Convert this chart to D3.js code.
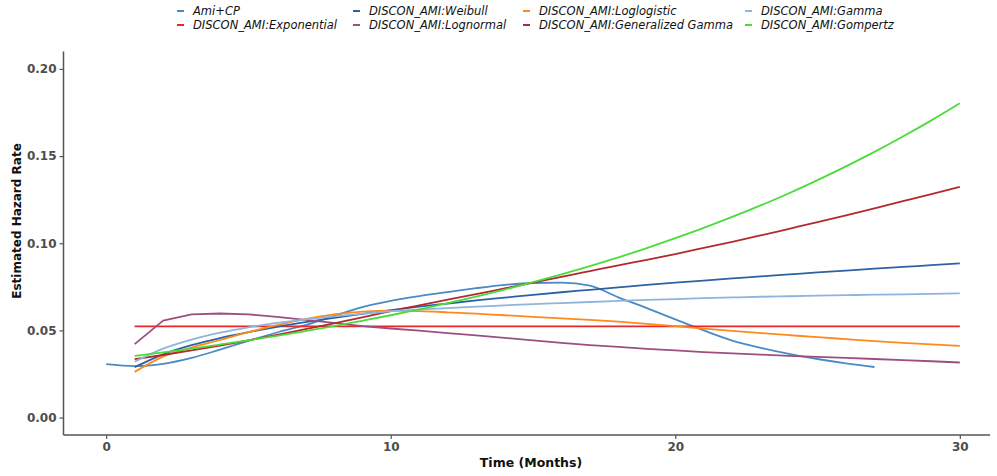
<!DOCTYPE html>
<html>
<head>
<meta charset="utf-8">
<script src="https://cdn.jsdelivr.net/npm/d3@7"></script>
<style>
  html, body { margin: 0; padding: 0; background: #fff; }
  svg { display: block; font-family: "DejaVu Sans", sans-serif; }
</style>
</head>
<body>
<svg id="chart" width="997" height="476"></svg>
<script>
// Estimated hazard rates over follow-up time (months)
const amiTimes = [0,1,2,3,4,5,6,7,8,9,10,11,12,13,14,15,16,17,18,19,20,21,22,23,24,25,26,27];
const amiCP = [0.0306,0.0295,0.0308,0.0342,0.0390,0.0440,0.0488,0.0530,0.0583,0.0634,0.0670,0.0697,0.0720,0.0742,0.0761,0.0772,0.0774,0.0757,0.0690,0.0628,0.0563,0.0500,0.0442,0.0400,0.0365,0.0336,0.0311,0.0290];

const fitTimes = [1,2,3,4,5,6,7,8,9,10,11,12,13,14,15,16,17,18,19,20,21,22,23,24,25,26,27,28,29,30];
const exponential = [0.0523,0.0523,0.0523,0.0523,0.0523,0.0523,0.0523,0.0523,0.0523,0.0523,0.0523,0.0523,0.0523,0.0523,0.0523,0.0523,0.0523,0.0523,0.0523,0.0523,0.0523,0.0523,0.0523,0.0523,0.0523,0.0523,0.0523,0.0523,0.0523,0.0523];
const weibull = [0.0289,0.0363,0.0415,0.0456,0.0490,0.0521,0.0548,0.0572,0.0595,0.0616,0.0636,0.0654,0.0672,0.0688,0.0704,0.0719,0.0733,0.0747,0.0761,0.0774,0.0786,0.0798,0.0810,0.0821,0.0833,0.0843,0.0854,0.0864,0.0874,0.0884];
const lognormal = [0.0421,0.0556,0.0592,0.0597,0.0592,0.0578,0.0561,0.0543,0.0525,0.0511,0.0499,0.0485,0.0471,0.0457,0.0443,0.0428,0.0416,0.0405,0.0394,0.0385,0.0376,0.0368,0.0361,0.0354,0.0348,0.0342,0.0336,0.0330,0.0323,0.0316];
const loglogistic = [0.0262,0.0350,0.0402,0.0445,0.0490,0.0530,0.0565,0.0592,0.0608,0.0614,0.0611,0.0604,0.0596,0.0587,0.0578,0.0569,0.0560,0.0550,0.0538,0.0524,0.0510,0.0497,0.0485,0.0473,0.0461,0.0450,0.0439,0.0429,0.0420,0.0411];
const genGamma = [0.0335,0.0359,0.0385,0.0413,0.0443,0.0474,0.0507,0.0540,0.0575,0.0611,0.0643,0.0676,0.0708,0.0741,0.0774,0.0807,0.0840,0.0873,0.0905,0.0938,0.0973,0.1008,0.1045,0.1083,0.1121,0.1160,0.1200,0.1241,0.1282,0.1324];
const gamma = [0.0320,0.0395,0.0447,0.0487,0.0518,0.0543,0.0563,0.0581,0.0596,0.0610,0.0619,0.0628,0.0636,0.0644,0.0651,0.0657,0.0663,0.0669,0.0675,0.0680,0.0685,0.0689,0.0693,0.0696,0.0699,0.0702,0.0705,0.0707,0.0710,0.0712];
const gompertz = [0.0354,0.0374,0.0396,0.0419,0.0443,0.0469,0.0496,0.0524,0.0555,0.0587,0.0621,0.0656,0.0694,0.0734,0.0777,0.0822,0.0869,0.0919,0.0972,0.1029,0.1088,0.1151,0.1217,0.1287,0.1362,0.1441,0.1524,0.1612,0.1705,0.1803];

const xTicks = [0, 10, 20, 30];
const yTicks = [0.00, 0.05, 0.10, 0.15, 0.20];

// Series in legend order (legend fills column by column, two rows)
const series = [
  { name: "Ami+CP",                          times: amiTimes, values: amiCP,       color: "#4a8ac6" },
  { name: "DISCON_AMI:Exponential",          times: fitTimes, values: exponential, color: "#e8262b" },
  { name: "DISCON_AMI:Weibull",              times: fitTimes, values: weibull,     color: "#2c62a4" },
  { name: "DISCON_AMI:Lognormal",            times: fitTimes, values: lognormal,   color: "#9c4f7e", linear: true },
  { name: "DISCON_AMI:Loglogistic",          times: fitTimes, values: loglogistic, color: "#ff8a1c" },
  { name: "DISCON_AMI:Generalized Gamma",    times: fitTimes, values: genGamma,    color: "#b22a30" },
  { name: "DISCON_AMI:Gamma",                times: fitTimes, values: gamma,       color: "#8fb5dc" },
  { name: "DISCON_AMI:Gompertz",             times: fitTimes, values: gompertz,    color: "#4bdc3a" }
];

const svg = d3.select("#chart");

const panel = { left: 63.5, top: 51.5, bottom: 435, right: 990 };

const x = d3.scaleLinear().domain([-1.5, 31.5]).range([panel.left, 1002.5]);
const y = d3.scaleLinear().domain([-0.01, 0.21]).range([panel.bottom, panel.top]);

// Curves
const smooth = d3.line().x(d => x(d[0])).y(d => y(d[1])).curve(d3.curveMonotoneX);
const straight = d3.line().x(d => x(d[0])).y(d => y(d[1]));

svg.append("g")
  .selectAll("path")
  .data(series)
  .join("path")
  .attr("fill", "none")
  .attr("stroke", d => d.color)
  .attr("stroke-width", 1.8)
  .attr("stroke-linejoin", "round")
  .attr("d", d => (d.linear ? straight : smooth)(d.times.map((t, i) => [t, d.values[i]])));

// Axes
const axisColor = "#555";
const tickText = "#4d4d4d";

const yAxis = svg.append("g")
  .attr("transform", `translate(${panel.left},0)`)
  .call(d3.axisLeft(y).tickValues(yTicks).tickFormat(d3.format(".2f")).tickSize(4).tickPadding(3));
const xAxis = svg.append("g")
  .attr("transform", `translate(0,${panel.bottom})`)
  .call(d3.axisBottom(x).tickValues(xTicks).tickFormat(d3.format("d")).tickSize(4).tickPadding(3));

[xAxis, yAxis].forEach(g => {
  g.select(".domain").remove();
  g.selectAll(".tick line").attr("stroke", axisColor).attr("stroke-width", 1.2);
  g.selectAll(".tick text")
    .attr("fill", tickText)
    .attr("font-size", 12)
    .attr("font-weight", "bold")
    .attr("font-family", "DejaVu Sans, sans-serif");
});

// Axis lines
svg.append("line")
  .attr("x1", panel.left).attr("x2", panel.left)
  .attr("y1", panel.top).attr("y2", panel.bottom)
  .attr("stroke", axisColor).attr("stroke-width", 1.5);
svg.append("line")
  .attr("x1", panel.left).attr("x2", panel.right)
  .attr("y1", panel.bottom).attr("y2", panel.bottom)
  .attr("stroke", axisColor).attr("stroke-width", 1.5);

// Axis titles
svg.append("text")
  .attr("x", 531).attr("y", 467)
  .attr("text-anchor", "middle")
  .attr("font-size", 12.5)
  .attr("font-weight", "bold")
  .attr("fill", "#111")
  .text("Time (Months)");

svg.append("text")
  .attr("transform", "translate(21,221) rotate(-90)")
  .attr("text-anchor", "middle")
  .attr("font-size", 12)
  .attr("font-weight", "bold")
  .attr("fill", "#111")
  .text("Estimated Hazard Rate");

// Legend: 4 columns x 2 rows
const colX = [177, 353, 523, 745];
const rowY = [11, 25];
const legend = svg.append("g");
series.forEach((s, i) => {
  const col = Math.floor(i / 2), row = i % 2;
  const g = legend.append("g").attr("transform", `translate(${colX[col]},${rowY[row]})`);
  g.append("line")
    .attr("x1", 0).attr("x2", 7)
    .attr("y1", 0).attr("y2", 0)
    .attr("stroke", s.color).attr("stroke-width", 2);
  g.append("text")
    .attr("x", 16).attr("y", 4)
    .attr("font-size", 11.5)
    .attr("font-style", "italic")
    .attr("fill", "#111")
    .text(s.name);
});
</script>
</body>
</html>
